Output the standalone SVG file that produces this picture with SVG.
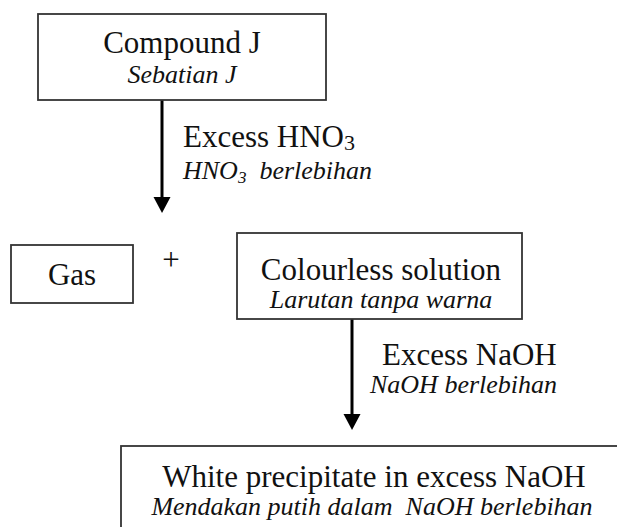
<svg xmlns="http://www.w3.org/2000/svg" width="617" height="527" viewBox="0 0 617 527">
  <style>
    .box { fill: #ffffff; stroke: #333333; stroke-width: 1.8; }
    .main { font-family: "Liberation Serif", "Times New Roman", serif; font-size: 31px; fill: #111111; }
    .sub { font-family: "Liberation Serif", "Times New Roman", serif; font-size: 26px; font-style: italic; fill: #111111; white-space: pre; }
    .mid { text-anchor: middle; }
    .arrow { stroke: #000000; stroke-width: 3; fill: none; }
    .head { fill: #000000; }
  </style>
  <rect width="617" height="527" fill="#ffffff"/>

  <g id="connectors">
    <line class="arrow" x1="162" y1="100" x2="162" y2="199"/>
    <path class="head" d="M153.5,197 L170.5,197 L162,213 Z"/>
    <line class="arrow" x1="352" y1="319" x2="352" y2="416"/>
    <path class="head" d="M343.5,414 L360.5,414 L352,430 Z"/>
  </g>

  <g id="compound-j">
    <rect class="box" x="38" y="14" width="288" height="86"/>
    <text class="main mid" x="182" y="53">Compound J</text>
    <text class="sub mid" x="182" y="83">Sebatian J</text>
  </g>

  <g id="label-hno3">
    <text class="main" x="183" y="147">Excess HNO<tspan font-size="22" dy="3">3</tspan></text>
    <text class="sub" x="183" y="179">HNO<tspan font-size="17" dy="4">3</tspan><tspan dy="-4">  berlebihan</tspan></text>
  </g>

  <g id="gas">
    <rect class="box" x="11" y="245" width="122" height="58"/>
    <text class="main mid" x="72" y="285">Gas</text>
  </g>

  <g id="plus">
    <text class="main mid" x="171" y="270" font-size="24">+</text>
  </g>

  <g id="colourless-solution">
    <rect class="box" x="237" y="233" width="285" height="86"/>
    <text class="main mid" x="381" y="280">Colourless solution</text>
    <text class="sub mid" x="381" y="308">Larutan tanpa warna</text>
  </g>

  <g id="label-naoh">
    <text class="main" x="382" y="365">Excess NaOH</text>
    <text class="sub" x="370" y="393">NaOH berlebihan</text>
  </g>

  <g id="white-precipitate">
    <rect class="box" x="121" y="446" width="520" height="120"/>
    <text class="main mid" x="374" y="487">White precipitate in excess NaOH</text>
    <text class="sub mid" x="372" y="515">Mendakan putih dalam  NaOH berlebihan</text>
  </g>
</svg>
